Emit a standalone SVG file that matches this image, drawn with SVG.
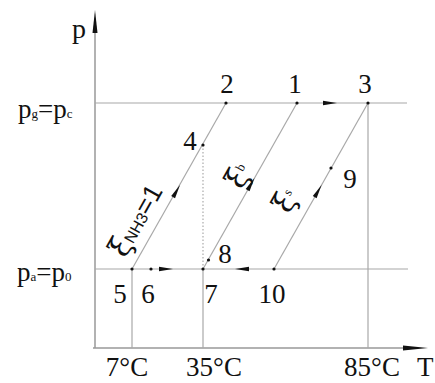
<svg xmlns="http://www.w3.org/2000/svg" width="435" height="383" viewBox="0 0 435 383">
<style>
.ln{stroke:#a8a8a8;stroke-width:1.2;fill:none}
.ax{stroke:#999;stroke-width:1.5;fill:none}
.dt{stroke:#aaa;stroke-width:1.2;stroke-dasharray:1.5 2;fill:none}
.lb{font-family:"Liberation Serif","Times New Roman",serif;font-size:27px;fill:#111}
.gr{font-family:"DejaVu Serif","Liberation Serif",serif;font-size:30px;fill:#111}
.sb{font-family:"Liberation Serif","Times New Roman",serif;font-size:13px;fill:#111}
.sn{font-family:"Liberation Sans",Arial,sans-serif;fill:#111}
.pt{fill:#111}
.ah{fill:#111}
</style>
<defs>
<path id="ah" d="M0,0 L-14,-2.2 L-14,2.2 Z"/>
</defs>
<rect width="435" height="383" fill="#fff"/>
<g id="axes">
<line class="ax" x1="95" y1="348" x2="95" y2="30"/>
<polygon class="ah" points="95,10 92.5,33 97.5,33"/>
<line class="ax" x1="93" y1="348" x2="405" y2="348"/>
<polygon class="ah" points="428,348 403,345.5 403,350.5"/>
<text class="lb" x="72" y="38" style="font-size:28px">p</text>
<text class="lb" x="417" y="376">T</text>
</g>
<g id="connectors">
<line class="ln" x1="95" y1="103" x2="407" y2="103"/>
<line class="ln" x1="95" y1="269" x2="408" y2="269"/>
<line class="ln" x1="132" y1="269" x2="132" y2="348"/>
<line class="ln" x1="203" y1="269" x2="203" y2="348"/>
<line class="ln" x1="368" y1="103" x2="368" y2="348"/>
<line class="dt" x1="203" y1="145" x2="203" y2="269"/>
<line class="ln" x1="132" y1="269" x2="226" y2="103"/>
<line class="ln" x1="203" y1="269" x2="297" y2="103"/>
<line class="ln" x1="274" y1="269" x2="368" y2="103"/>
<use href="#ah" class="ah" transform="translate(173,269)"/>
<use href="#ah" class="ah" transform="translate(235,269) rotate(180)"/>
<use href="#ah" class="ah" transform="translate(337,103)"/>
<use href="#ah" class="ah" transform="translate(180,185) rotate(-60.5)"/>
<use href="#ah" class="ah" transform="translate(254.5,178) rotate(-60.5)"/>
<use href="#ah" class="ah" transform="translate(321.6,185) rotate(-60.5)"/>
</g>
<g id="pressure-labels">
<text class="lb" x="18" y="118">p<tspan style="font-size:13px">g</tspan>=p<tspan style="font-size:13px">c</tspan></text>
<text class="lb" x="17" y="281">p<tspan style="font-size:13px">a</tspan>=p<tspan style="font-size:13px">0</tspan></text>
</g>
<g id="temp-labels">
<text class="lb" x="127" y="376" text-anchor="middle">7°C</text>
<text class="lb" x="214" y="376" text-anchor="middle">35°C</text>
<text class="lb" x="372" y="376" text-anchor="middle">85°C</text>
</g>
<g id="n1"><circle class="pt" cx="297" cy="103" r="1.6"/><text class="lb" x="295" y="93" text-anchor="middle">1</text></g>
<g id="n2"><circle class="pt" cx="226" cy="103" r="1.6"/><text class="lb" x="227" y="93" text-anchor="middle">2</text></g>
<g id="n3"><circle class="pt" cx="368" cy="103" r="1.6"/><text class="lb" x="365" y="93" text-anchor="middle">3</text></g>
<g id="n4"><circle class="pt" cx="203" cy="145" r="1.6"/><text class="lb" x="190" y="150" text-anchor="middle">4</text></g>
<g id="n5"><circle class="pt" cx="132" cy="269" r="1.6"/><text class="lb" x="120" y="303" text-anchor="middle">5</text></g>
<g id="n6"><circle class="pt" cx="151" cy="269" r="1.6"/><text class="lb" x="148" y="303" text-anchor="middle">6</text></g>
<g id="n7"><circle class="pt" cx="203" cy="269" r="1.6"/><text class="lb" x="211" y="303" text-anchor="middle">7</text></g>
<g id="n8"><circle class="pt" cx="208.5" cy="260" r="1.6"/><text class="lb" x="225" y="263" text-anchor="middle">8</text></g>
<g id="n9"><circle class="pt" cx="331" cy="168" r="1.6"/><text class="lb" x="350" y="188" text-anchor="middle">9</text></g>
<g id="n10"><circle class="pt" cx="274" cy="269" r="1.6"/><text class="lb" x="272" y="303" text-anchor="middle">10</text></g>
<g id="xi-labels">
<text transform="translate(139,222) rotate(-60.5)" y="6" text-anchor="middle"><tspan class="gr">ξ</tspan><tspan class="sn" style="font-size:16px">NH3</tspan><tspan class="sn" style="font-size:26px">=1</tspan></text>
<text transform="translate(241,177) rotate(-60.5)" y="7" text-anchor="middle"><tspan class="gr">ξ</tspan><tspan class="sb" dy="-8">b</tspan></text>
<text transform="translate(288,202) rotate(-60.5)" y="7" text-anchor="middle"><tspan class="gr">ξ</tspan><tspan class="sb" dy="-8">s</tspan></text>
</g>
</svg>
